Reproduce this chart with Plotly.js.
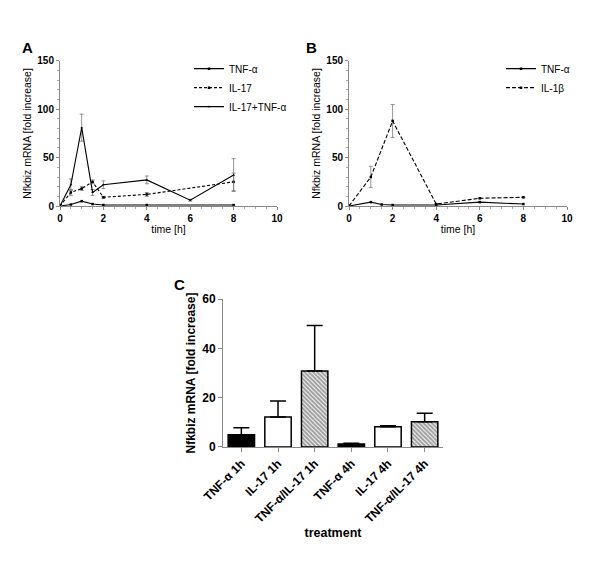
<!DOCTYPE html>
<html><head><meta charset="utf-8">
<script src="https://cdn.plot.ly/plotly-3.0.1.min.js"></script>
<style>body{margin:0;background:#fff}#c{width:600px;height:570px}</style>
</head><body><div id="c"></div>
<script>
// Panel A
const a_tnf_x = [0, 0.5, 1, 1.5, 2, 4, 8];
const a_tnf_y = [0, 1.5, 5, 2, 1, 1, 1];
const a_il17_x = [0, 0.5, 1, 1.5, 2, 4, 8];
const a_il17_y = [0, 14, 18, 25, 9, 12, 25];
const a_il17_err = [0, 3, 2, 2, 1, 2, 9];
const a_comb_x = [0, 0.5, 1, 1.5, 2, 4, 6, 8];
const a_comb_y = [0, 22, 81, 14, 22, 27, 6, 32];
const a_comb_err = [0, 6, 14, 3, 4, 4, 1, 17];
// Panel B
const b_tnf_x = [0, 1, 1.5, 2, 4, 6, 8];
const b_tnf_y = [0, 4, 1.5, 1, 1, 4, 2];
const b_il1_x = [0, 1, 2, 4, 6, 8];
const b_il1_y = [0, 30, 88, 2, 8, 9];
const b_il1_err = [0, 11, 17, 0.5, 0.5, 0.5];
// Panel C
const c_cats = ["TNF-α 1h", "IL-17 1h", "TNF-α/IL-17 1h", "TNF-α 4h", "IL-17 4h", "TNF-α/IL-17 4h"];
const c_vals = [5, 12.2, 30.8, 1.2, 8.2, 10.2];
const c_err = [2.8, 6.4, 18.5, 0.3, 0.4, 3.5];

const F = "Arial, Liberation Sans, sans-serif";
const lineBase = {color: "#000", width: 1.1};
const mk = {symbol: "square", size: 2.5, color: "#000"};
const eb = (arr) => ({type: "data", array: arr, visible: true, color: "#777", thickness: 0.8, width: 2});

const traces = [
  {x: a_tnf_x, y: a_tnf_y, xaxis: "x", yaxis: "y", mode: "lines+markers", name: "TNF-α",
   line: {...lineBase}, marker: mk, legend: "legend"},
  {x: a_il17_x, y: a_il17_y, xaxis: "x", yaxis: "y", mode: "lines+markers", name: "IL-17",
   line: {...lineBase, dash: "3px,2px"}, marker: mk, error_y: eb(a_il17_err), legend: "legend"},
  {x: a_comb_x, y: a_comb_y, xaxis: "x", yaxis: "y", mode: "lines+markers", name: "IL-17+TNF-α",
   line: {...lineBase}, marker: {...mk, symbol: "triangle-up", size: 2.5}, error_y: eb(a_comb_err), legend: "legend"},
  {x: b_tnf_x, y: b_tnf_y, xaxis: "x2", yaxis: "y2", mode: "lines+markers", name: "TNF-α",
   line: {...lineBase}, marker: mk, legend: "legend2"},
  {x: b_il1_x, y: b_il1_y, xaxis: "x2", yaxis: "y2", mode: "lines+markers", name: "IL-1β",
   line: {...lineBase, dash: "4px,2px"}, marker: mk, error_y: eb(b_il1_err), legend: "legend2"},
  {x: c_cats, y: c_vals, xaxis: "x3", yaxis: "y3", type: "bar", showlegend: false, width: 0.72,
   marker: {color: ["#000", "#fff", "#fff", "#000", "#fff", "#fff"],
            line: {color: "#000", width: 1.5},
            pattern: {shape: ["", "", "\\", "", "", "\\"], size: 3, solidity: 0.7, fgcolor: "#000", bgcolor: "#fff", fillmode: "overlay"}},
   error_y: {type: "data", array: c_err, arrayminus: [0,0,0,0,0,0], symmetric: false, visible: true, color: "#000", thickness: 1.5, width: 8}}
];

const tickF = {family: F, size: 10, color: "#000", weight: "bold"};
const titF = {family: F, size: 10.5, color: "#000", weight: "normal"};
const lineAx = (ex) => Object.assign({
  showgrid: false, zeroline: false, showline: true, linecolor: "#888", linewidth: 1,
  ticks: "outside", ticklen: 3, tickcolor: "#888", tickfont: tickF
}, ex);
const minX = {ticks: "outside", ticklen: 2, tickcolor: "#aaa", dtick: 0.5};
const minY = {ticks: "outside", ticklen: 2, tickcolor: "#aaa", dtick: 10};

const layout = {
  width: 600, height: 570, paper_bgcolor: "#fff", plot_bgcolor: "#fff",
  margin: {l: 0, r: 0, t: 0, b: 0},
  font: {family: F, color: "#000"},
  xaxis: lineAx({domain: [0.1, 0.4617], range: [0, 10], dtick: 2, minor: minX, anchor: "y",
    title: {text: "time [h]", font: titF, standoff: 2}}),
  yaxis: lineAx({domain: [0.6386, 0.893], range: [0, 150], dtick: 50, minor: minY, anchor: "x",
    title: {text: "Nfkbiz mRNA [fold increase]", font: titF, standoff: 3}}),
  xaxis2: lineAx({domain: [0.5817, 0.945], range: [0, 10], dtick: 2, minor: minX, anchor: "y2",
    title: {text: "time [h]", font: titF, standoff: 2}}),
  yaxis2: lineAx({domain: [0.6386, 0.893], range: [0, 150], dtick: 50, minor: minY, anchor: "x2",
    title: {text: "Nfkbiz mRNA [fold increase]", font: titF, standoff: 3}}),
  xaxis3: {domain: [0.3717, 0.7383], anchor: "y3", range: [-0.5, 5.5], showgrid: false, zeroline: false,
    showline: true, linecolor: "#888", linewidth: 1, ticks: "outside", ticklen: 4, tickcolor: "#888",
    tickangle: -45, tickfont: {family: F, size: 12, color: "#000", weight: "bold"},
    title: {text: "treatment", font: {family: F, size: 12.5, weight: "bold"}, standoff: 0}},
  yaxis3: {domain: [0.2158, 0.4754], anchor: "x3", range: [0, 60], dtick: 20, showgrid: false, zeroline: false,
    showline: true, linecolor: "#888", linewidth: 1, ticks: "outside", ticklen: 4, tickcolor: "#888",
    tickfont: {family: F, size: 12, color: "#000", weight: "bold"},
    title: {text: "Nfkbiz mRNA [fold increase]", font: {family: F, size: 12, weight: "bold"}, standoff: 4}},
  legend: {x: 0.315, y: 0.905, xanchor: "left", yanchor: "top", bgcolor: "rgba(0,0,0,0)",
    font: {family: F, size: 10}, tracegroupgap: 0, itemwidth: 30},
  legend2: {x: 0.835, y: 0.905, xanchor: "left", yanchor: "top", bgcolor: "rgba(0,0,0,0)",
    font: {family: F, size: 10}, tracegroupgap: 0, itemwidth: 30},
  annotations: [
    {text: "<b>A</b>", xref: "paper", yref: "paper", x: 20/600, y: 1 - 47/570, xanchor: "left", yanchor: "middle", showarrow: false, font: {family: F, size: 15}},
    {text: "<b>B</b>", xref: "paper", yref: "paper", x: 304/600, y: 1 - 47/570, xanchor: "left", yanchor: "middle", showarrow: false, font: {family: F, size: 15}},
    {text: "<b>C</b>", xref: "paper", yref: "paper", x: 172/600, y: 1 - 284/570, xanchor: "left", yanchor: "middle", showarrow: false, font: {family: F, size: 15}}
  ]
};
Plotly.newPlot("c", traces, layout, {displayModeBar: false, staticPlot: true});
</script></body></html>
